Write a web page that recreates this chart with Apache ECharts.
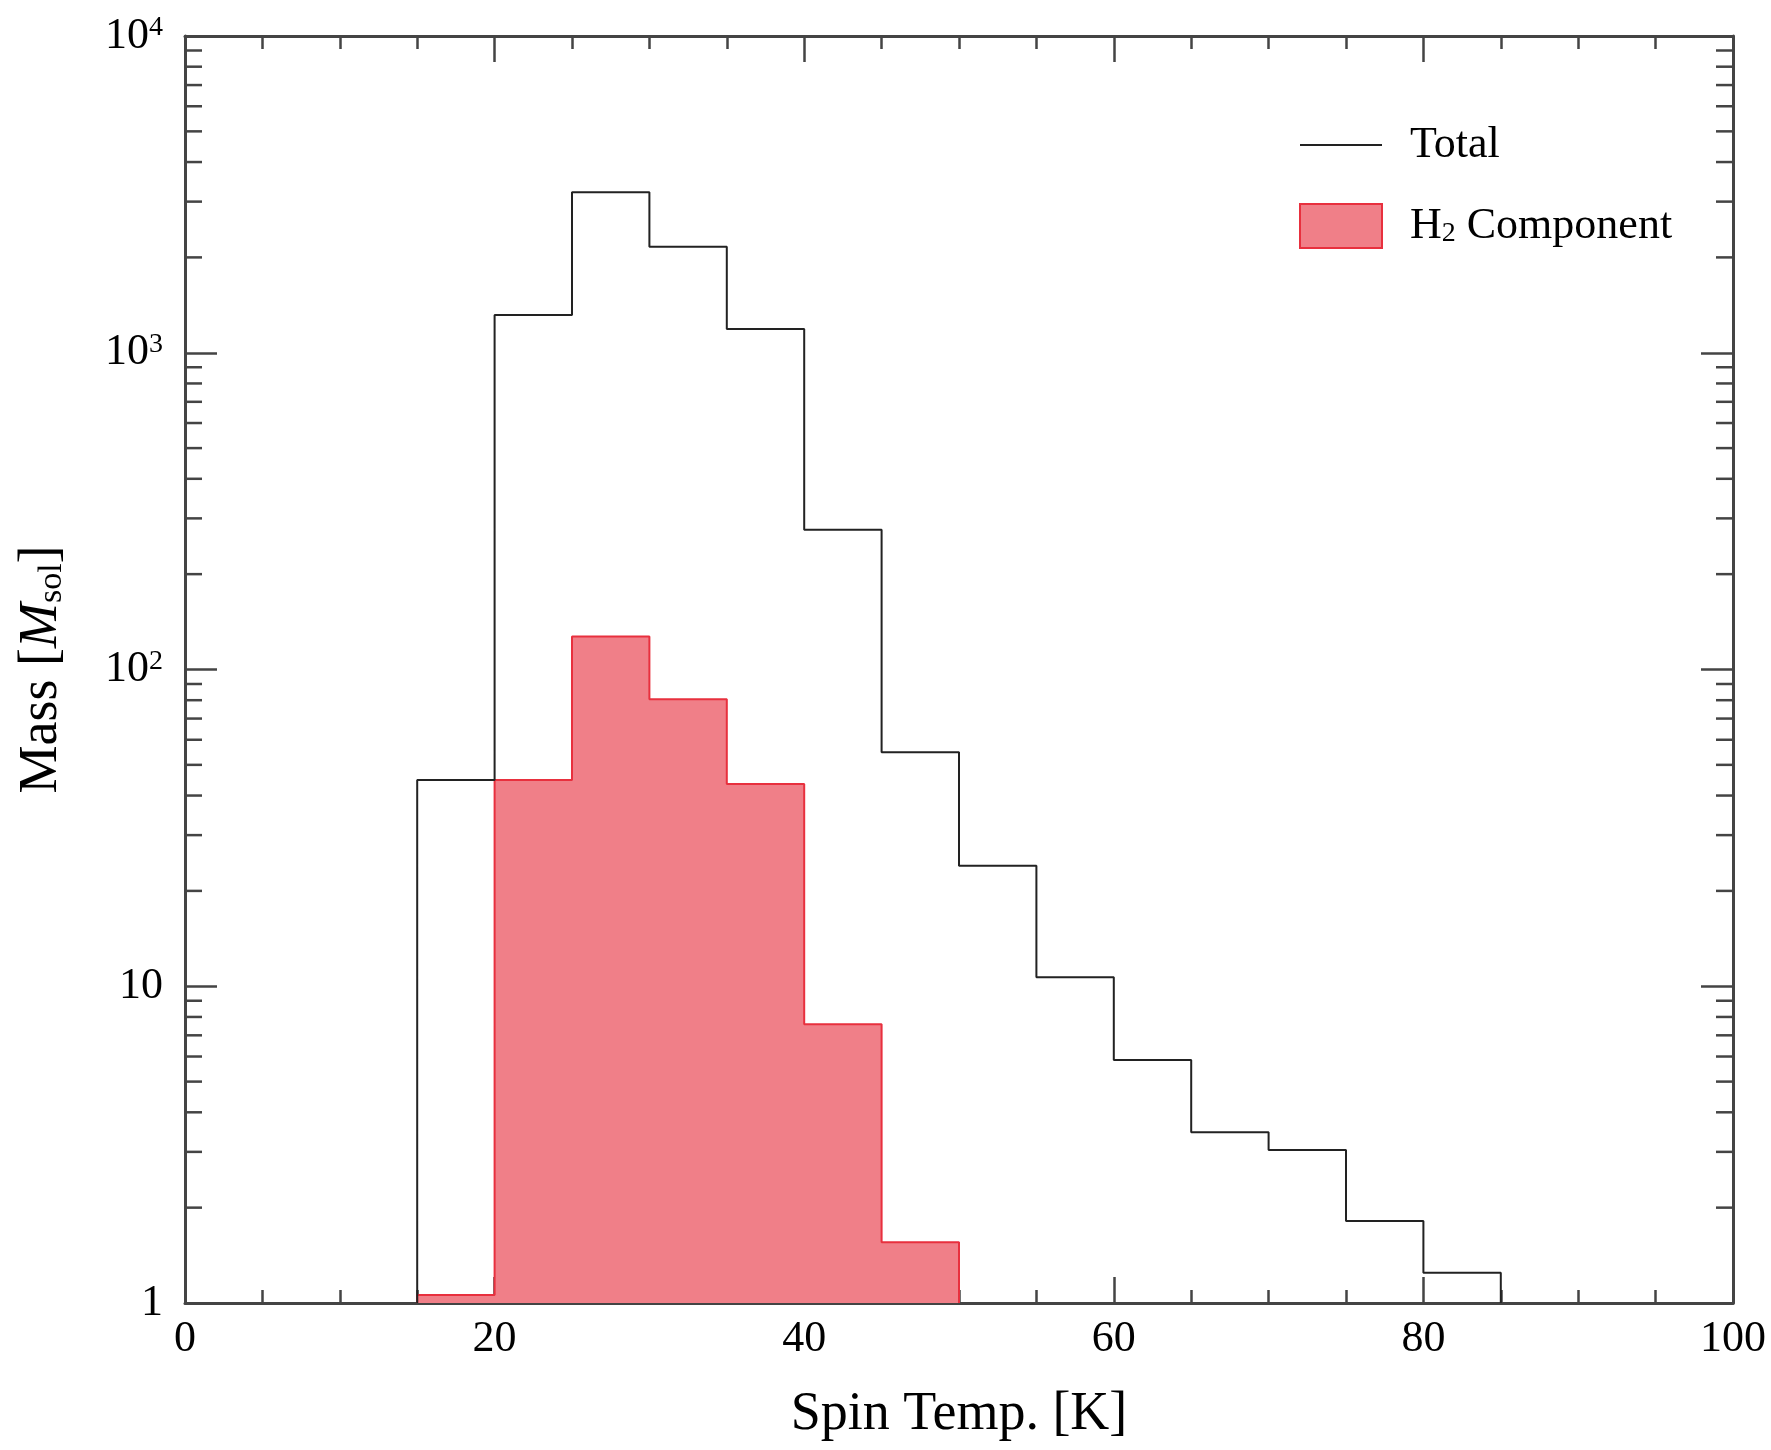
<!DOCTYPE html>
<html>
<head>
<meta charset="utf-8">
<script src="https://cdn.jsdelivr.net/npm/echarts@6/dist/echarts.min.js"></script>
<style>
  html, body { margin: 0; padding: 0; background: #fff; }
  #chart { width: 1771px; height: 1450px; }
</style>
</head>
<body>
<div id="chart"></div>
<script>
// ---- data ----
const xMin = 0, xMax = 100, xInterval = 20;
const yMin = 1, yMax = 10000;
const yTickValues = [1, 10, 100, 1000, 10000];
const yTickLabels = ['1', '10', '10{sup|2}', '10{sup|3}', '10{sup|4}'];
const yMinorTicks = [2, 3, 4, 5, 6, 7, 8, 9,
                     20, 30, 40, 50, 60, 70, 80, 90,
                     200, 300, 400, 500, 600, 700, 800, 900,
                     2000, 3000, 4000, 5000, 6000, 7000, 8000, 9000];
const binWidth = 5;
const totalBinStart = [15, 20, 25, 30, 35, 40, 45, 50, 55, 60, 65, 70, 75, 80];
const totalMass = [44.8, 1316, 3212, 2160, 1188, 276, 54.8, 24.0, 10.67, 5.85, 3.46, 3.04, 1.815, 1.247];
const h2BinStart = [15, 20, 25, 30, 35, 40, 45];
const h2Mass = [1.06, 44.8, 127, 80.5, 43.5, 7.59, 1.555];

// ---- helpers ----
function stepData(starts, vals) {
  const pts = [[starts[0], yMin]];
  for (let i = 0; i < starts.length; i++) pts.push([starts[i], vals[i]]);
  const last = starts.length - 1;
  pts.push([starts[last] + binWidth, vals[last]]);
  pts.push([starts[last] + binWidth, yMin]);
  return pts;
}

const serif = '"Liberation Serif", "Times New Roman", serif';
const axisColor = '#444';
const totalColor = '#222';
const h2Fill = '#F07F88';
const h2Edge = '#E8303E';
const yMinorLen = 17;

const chart = echarts.init(document.getElementById('chart'), null, { renderer: 'canvas' });

const xAxisCommon = {
  type: 'value', min: xMin, max: xMax, interval: xInterval,
  axisLine: { show: true, onZero: false, lineStyle: { color: axisColor, width: 3 } },
  axisTick: { show: true, inside: true, length: 26, lineStyle: { color: axisColor, width: 2.5 } },
  minorTick: { show: true, splitNumber: 4, length: 13, lineStyle: { color: axisColor, width: 2.5 } },
  splitLine: { show: false }, minorSplitLine: { show: false }
};
const yAxisCommon = {
  type: 'log', logBase: 10, min: yMin, max: yMax,
  axisLine: { show: true, onZero: false, lineStyle: { color: axisColor, width: 3 } },
  axisTick: { show: true, inside: true, length: 32, lineStyle: { color: axisColor, width: 2.5 } },
  splitLine: { show: false }
};

const option = {
  backgroundColor: '#fff',
  animation: false,
  grid: { left: 185, right: 38, top: 36, bottom: 147 },
  legend: {
    orient: 'vertical', left: 1294, top: 118,
    itemWidth: 82, itemHeight: 44, itemGap: 36,
    selectedMode: false,
    symbolKeepAspect: true,
    data: [
      { name: 'Total', icon: 'path://M0,0H41V1H0Z', itemStyle: { color: totalColor, borderWidth: 0 } },
      { name: 'H2 Component', icon: 'rect', itemStyle: { color: h2Fill, borderColor: h2Edge, borderWidth: 2 } }
    ],
    formatter: function (n) { return n === 'H2 Component' ? 'H{sub|2} Component' : n; },
    textStyle: {
      fontSize: 44, fontFamily: serif, color: '#000', padding: [0, 0, 0, 23],
      rich: { sub: { fontSize: 28, fontFamily: serif, color: '#000', verticalAlign: 'bottom' } }
    }
  },
  xAxis: [
    Object.assign({}, xAxisCommon, {
      position: 'bottom',
      axisLabel: { margin: 14, fontSize: 44, fontFamily: serif, color: '#000' },
      name: 'Spin Temp. [K]', nameLocation: 'middle', nameGap: 85,
      nameTextStyle: { fontSize: 54, fontFamily: serif, color: '#000' }
    }),
    Object.assign({}, xAxisCommon, { position: 'top', axisLabel: { show: false } })
  ],
  yAxis: [
    Object.assign({}, yAxisCommon, {
      position: 'left',
      axisLabel: {
        margin: 22, fontSize: 44, fontFamily: serif, color: '#000',
        formatter: function (v) {
          const i = yTickValues.findIndex(t => Math.abs(Math.log10(t) - Math.log10(v)) < 1e-6);
          return i >= 0 ? yTickLabels[i] : '';
        },
        rich: { sup: { fontSize: 28, fontFamily: serif, color: '#000', verticalAlign: 'top', lineHeight: 30 } }
      },
      name: 'Mass [{it|M}{sub|sol}]', nameLocation: 'middle', nameGap: 116, nameRotate: 90,
      nameTextStyle: {
        fontSize: 54, fontFamily: serif, color: '#000',
        rich: {
          it: { fontSize: 54, fontFamily: serif, fontStyle: 'italic', color: '#000' },
          sub: { fontSize: 34, fontFamily: serif, color: '#000', verticalAlign: 'bottom' }
        }
      }
    }),
    Object.assign({}, yAxisCommon, { position: 'right', axisLabel: { show: false } })
  ],
  series: [
    {
      name: 'H2 Component', type: 'line', step: 'end', symbol: 'none',
      xAxisIndex: 0, yAxisIndex: 0, z: 2,
      data: stepData(h2BinStart, h2Mass),
      lineStyle: { color: h2Edge, width: 2 },
      itemStyle: { color: h2Fill },
      areaStyle: { color: h2Fill, opacity: 1, origin: 'start' }
    },
    {
      name: 'Total', type: 'line', step: 'end', symbol: 'none',
      xAxisIndex: 0, yAxisIndex: 0, z: 3,
      data: stepData(totalBinStart, totalMass),
      lineStyle: { color: totalColor, width: 2 },
      itemStyle: { color: totalColor }
    },
    {
      name: 'yMinorTicks', type: 'custom', silent: true, clip: false, z: 4,
      xAxisIndex: 0, yAxisIndex: 0,
      data: yMinorTicks.map(v => [xMin, v]),
      renderItem: function (params, api) {
        const v = api.value(1);
        const pl = api.coord([xMin, v]);
        const pr = api.coord([xMax, v]);
        const st = { stroke: axisColor, lineWidth: 2.5 };
        return {
          type: 'group',
          children: [
            { type: 'line', shape: { x1: pl[0], y1: pl[1], x2: pl[0] + yMinorLen, y2: pl[1] }, style: st },
            { type: 'line', shape: { x1: pr[0] - yMinorLen, y1: pr[1], x2: pr[0], y2: pr[1] }, style: st }
          ]
        };
      }
    }
  ]
};
chart.setOption(option);
</script>
</body>
</html>
